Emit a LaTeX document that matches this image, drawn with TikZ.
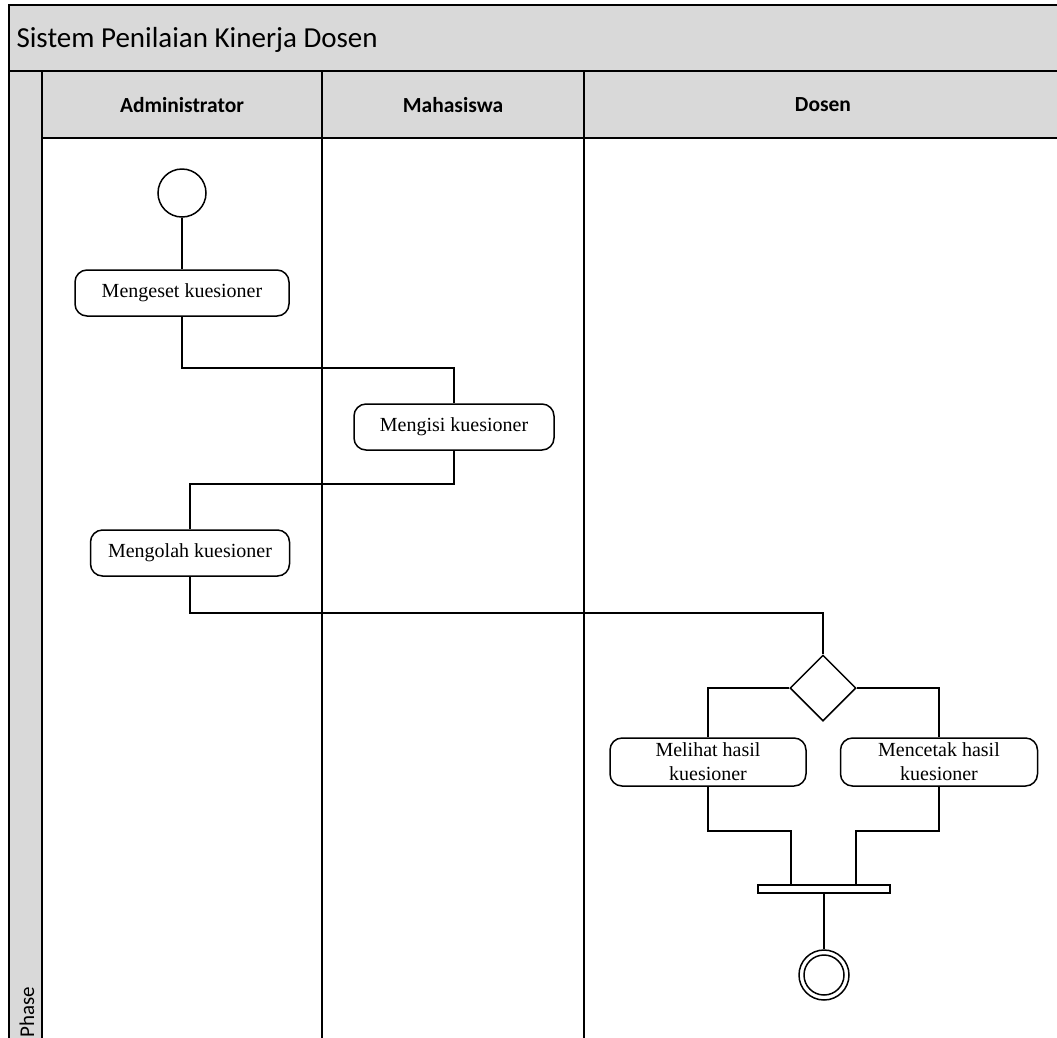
\documentclass[tikz,border=0pt]{standalone}
\usepackage{fontspec}
\setmainfont{Liberation Serif}
\newfontfamily\lanefont{Carlito}
\usetikzlibrary{shapes.geometric}
\definecolor{lanegray}{HTML}{D9D9D9}
\tikzset{
  frame/.style={draw=black, line width=1.6pt},
  activity/.style={draw, line width=1.5pt, rounded corners=12pt, align=center,
    font=\fontsize{20}{24}\selectfont, inner sep=2pt},
  flow/.style={draw, line width=1.5pt},
  header/.style={font=\lanefont\bfseries\fontsize{21.5}{24}\selectfont},
}
\begin{document}
\begin{tikzpicture}[x=1pt, y=-1pt]
\useasboundingbox (0,0) rectangle (1057,1037);
\clip (0,0) rectangle (1057,1037);

% pool: title band, phase column and lane headers
\fill[lanegray] (9,5) rectangle (1070,71);
\fill[lanegray] (9,71) rectangle (42,1050);
\fill[lanegray] (42,71) rectangle (1070,138);
\draw[frame] (9,1050) -- (9,5) -- (1070,5);
\draw[frame] (9,71) -- (1070,71);
\draw[frame] (42,71) -- (42,1050);
\draw[frame] (42,138) -- (1070,138);
\draw[frame] (322,71) -- (322,1050);
\draw[frame] (584,71) -- (584,1050);

\node[anchor=west, font=\lanefont\fontsize{29}{32}\selectfont] (title) at (13,40) {Sistem Penilaian Kinerja Dosen};
\node[header] (hAdmin) at (182,105) {Administrator};
\node[header] (hMhs) at (453,105) {Mahasiswa};
\node[header] (hDosen) at (823,105) {Dosen};
\node[rotate=90, anchor=west, font=\lanefont\fontsize{21}{24}\selectfont] (phase) at (27,1041) {Phase};

% activities
\node[draw, circle, line width=1.5pt, minimum size=48pt, inner sep=0pt] (start) at (182,193) {};
\node[activity, minimum width=214pt, minimum height=46pt] (set) at (182,293) {Mengeset kuesioner};
\node[activity, minimum width=200pt, minimum height=46pt] (isi) at (454,427) {Mengisi kuesioner};
\node[activity, minimum width=199pt, minimum height=46pt] (olah) at (190,553) {Mengolah kuesioner};
\node[draw, diamond, line width=1.5pt, minimum width=66pt, minimum height=66pt, inner sep=0pt] (dec) at (823,688) {};
\node[activity, minimum width=196pt, minimum height=48pt] (lihat) at (708,762) {Melihat hasil\\kuesioner};
\node[activity, minimum width=197pt, minimum height=48pt] (cetak) at (939,762) {Mencetak hasil\\kuesioner};
\node[draw, line width=1.5pt, minimum width=132pt, minimum height=8pt, inner sep=0pt] (join) at (824,889) {};
\node[draw, circle, line width=1.5pt, minimum size=50pt, inner sep=0pt] (stop) at (824,975) {};
\node[draw, circle, line width=1.5pt, minimum size=40pt, inner sep=0pt] (stopin) at (824,975) {};

% control flow
\draw[flow] (start) -- (set);
\draw[flow] (set.south) -- (182,368) -| (isi.north);
\draw[flow] (isi.south) -- (454,484) -| (olah.north);
\draw[flow] (olah.south) -- (190,613) -| (dec.north);
\draw[flow] (dec.west) -| (lihat.north);
\draw[flow] (dec.east) -| (cetak.north);
\draw[flow] (lihat.south) -- (708,831) -| (791,885);
\draw[flow] (cetak.south) -- (939,831) -| (856,885);
\draw[flow] (join.south) -- (stop.north);
\end{tikzpicture}
\end{document}
